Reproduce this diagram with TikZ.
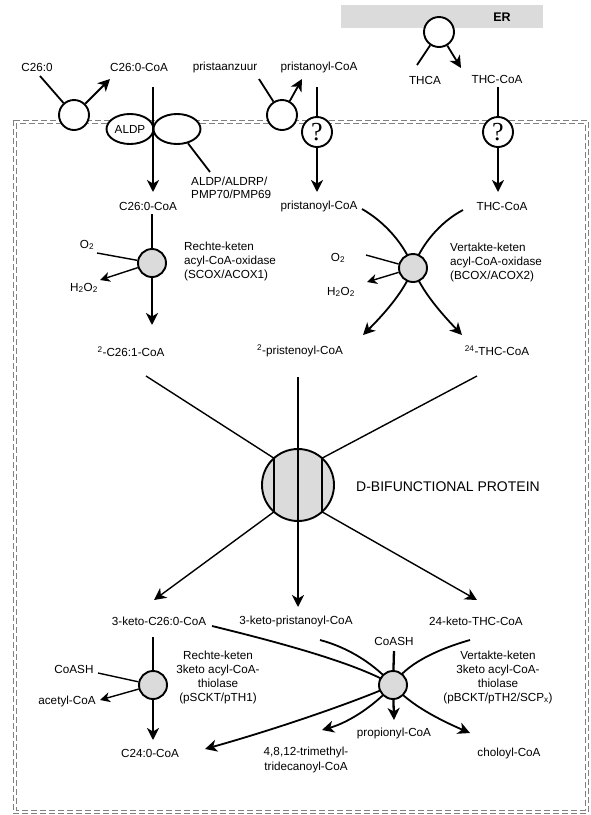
\documentclass[tikz,border=0pt]{standalone}
\usepackage{fontspec}
\setmainfont{Liberation Sans}
\newfontfamily\qmarkfont{Liberation Serif}
\usetikzlibrary{arrows.meta,shapes.geometric}
\pgfdeclarelayer{back}
\pgfdeclarelayer{lines}
\pgfdeclarelayer{front}
\pgfsetlayers{back,lines,main,front}
\begin{document}
\begin{tikzpicture}[x=1pt,y=-1pt,
  lbl/.style={inner sep=0pt,font=\fontsize{11.7}{14}\selectfont},
  blk/.style={lbl,align=left},
  cblk/.style={lbl,align=center},
  tip/.style={-{Stealth[length=12pt,width=12pt,inset=3.5pt]}},
  smalltip/.style={-{Stealth[length=10pt,width=10pt,inset=3pt]}},
  heavy/.style={line width=2.3pt},
  med/.style={line width=1.8pt},
  fine/.style={line width=1.4pt},
  porter/.style={circle,draw,line width=1.9pt,fill=white,minimum size=30pt,inner sep=0pt},
  enzyme/.style={circle,draw,line width=1.9pt,fill=black!14,minimum size=28pt,inner sep=0pt},
  carrier/.style={ellipse,draw,line width=1.9pt,fill=white,minimum width=47pt,minimum height=30pt,inner sep=0pt},
  border/.style={draw=black!50,line width=0.9pt,dash pattern=on 6pt off 3pt}
]
\useasboundingbox (0,0) rectangle (590,815);

% ---------- substrates at the top ----------
\node[lbl] (c26) at (37,67) {C26:0};
\node[lbl] (c26coaT) at (139,67) {C26:0-CoA};
\node[lbl] (pza) at (225,67) {pristaanzuur};
\node[lbl] (prcoaT) at (319,67) {pristanoyl-CoA};
\node[lbl] (thca) at (425,80) {THCA};
\node[lbl] (thccoaT) at (497,79) {THC-CoA};
\node[inner sep=0pt,font=\fontsize{12.5}{14}\selectfont\bfseries] (er) at (502,17) {ER};

% activating enzymes and transporters
\node[porter] (t1) at (74,115) {};
\node[porter] (t2) at (282,115) {};
\node[porter] (t3) at (439,32) {};
\node[carrier] (aldp) at (130,129) {\fontsize{11.7}{14}\selectfont ALDP};
\node[carrier] (aldp2) at (177,129) {};
\node[porter] (q1) at (317,132) {\qmarkfont\fontsize{26}{26}\selectfont ?};
\node[porter] (q2) at (498,132) {\qmarkfont\fontsize{26}{26}\selectfont ?};
\node[lbl,anchor=west,align=left,font=\fontsize{11.7}{12.7}\selectfont] (aldpl) at (191,188) {ALDP/ALDRP/\\PMP70/PMP69};

% ---------- acyl-CoA oxidases ----------
\node[lbl] (c26coa) at (148,206) {C26:0-CoA};
\node[lbl] (prcoa) at (319,206) {pristanoyl-CoA};
\node[lbl] (thccoa) at (502,206) {THC-CoA};
\node[enzyme] (enzA) at (152,263) {};
\node[enzyme] (enzB) at (413,268) {};
\node[lbl] (o2a) at (87,245) {O\textsubscript{2}};
\node[lbl] (h2o2a) at (84,288) {H\textsubscript{2}O\textsubscript{2}};
\node[lbl] (o2b) at (338,258) {O\textsubscript{2}};
\node[lbl] (h2o2b) at (341,292) {H\textsubscript{2}O\textsubscript{2}};
\node[blk,anchor=west] (scox) at (184,261) {Rechte-keten\\acyl-CoA-oxidase\\(SCOX/ACOX1)};
\node[blk,anchor=west] (bcox) at (450,262) {Vertakte-keten\\acyl-CoA-oxidase\\(BCOX/ACOX2)};
\node[lbl] (enoylA) at (131,352) {\textsuperscript{2}-C26:1-CoA};
\node[lbl] (enoylB) at (300,351) {\textsuperscript{2}-pristenoyl-CoA};
\node[lbl] (enoylC) at (497,351) {\textsuperscript{24}-THC-CoA};

% ---------- D-bifunctional protein ----------
\node[circle,draw,line width=1.9pt,fill=black!14,minimum size=72pt,inner sep=0pt] (dbp) at (298,485) {};
\node[inner sep=0pt,anchor=west,font=\fontsize{14}{16}\selectfont] (dbpl) at (356,487) {D-BIFUNCTIONAL PROTEIN};

% ---------- thiolases ----------
\node[lbl] (ketoA) at (159,621) {3-keto-C26:0-CoA};
\node[lbl] (ketoB) at (296,621) {3-keto-pristanoyl-CoA};
\node[lbl] (ketoC) at (476,621) {24-keto-THC-CoA};
\node[enzyme] (enzC) at (153,685) {};
\node[enzyme] (enzD) at (393,685) {};
\node[lbl] (coashA) at (74,669) {CoASH};
\node[lbl] (acetyl) at (67,701) {acetyl-CoA};
\node[lbl] (coashB) at (394,641) {CoASH};
\node[lbl] (propionyl) at (394,733) {propionyl-CoA};
\node[cblk] (scpt) at (218,677) {Rechte-keten\\3keto acyl-CoA-\\thiolase\\(pSCKT/pTH1)};
\node[cblk] (bcpt) at (498,677) {Vertakte-keten\\3keto acyl-CoA-\\thiolase\\(pBCKT/pTH2/SCP\textsubscript{x})};
\node[lbl] (c24) at (150,753) {C24:0-CoA};
\node[cblk,font=\fontsize{11.7}{15}\selectfont] (tmtd) at (306,760) {4,8,12-trimethyl-\\tridecanoyl-CoA};
\node[lbl] (choloyl) at (509,753) {choloyl-CoA};

% free ends of connectors
\coordinate (a1) at (40,76);   \coordinate (a2) at (110,79);
\coordinate (b1) at (259,79);  \coordinate (b2) at (302,79);
\coordinate (e1) at (417,65);  \coordinate (e2) at (461,68);
\coordinate (v1a) at (153,87); \coordinate (v1b) at (153,192);
\coordinate (v2a) at (317,87); \coordinate (v2b) at (317,192);
\coordinate (v3a) at (498,87); \coordinate (v3b) at (498,192);
\coordinate (l1) at (210,172);
\coordinate (va) at (152,214); \coordinate (vb) at (152,325);
\coordinate (oa) at (97,253);  \coordinate (ha) at (100,280);
\coordinate (ob) at (366,255); \coordinate (hb) at (367,282);
\coordinate (c1) at (362,209); \coordinate (c2) at (463,210);
\coordinate (f1) at (462,335); \coordinate (f2) at (363,335);
\coordinate (d1) at (146,376); \coordinate (d2) at (298,377); \coordinate (d3) at (477,376);
\coordinate (chL1) at (274,458.2); \coordinate (chL2) at (274,511.8);
\coordinate (chR1) at (322,458.2); \coordinate (chR2) at (322,511.8);
\coordinate (g1) at (154,600); \coordinate (g2) at (298,607); \coordinate (g3) at (477,600);
\coordinate (k1) at (153,637); \coordinate (k2) at (153,740);
\coordinate (m1) at (98,673);  \coordinate (m2) at (100,700);
\coordinate (n0) at (394,651); \coordinate (n1) at (394,720);
\coordinate (p1) at (212,626); \coordinate (p2) at (205,749);
\coordinate (p3) at (320,640); \coordinate (p4) at (322,730);
\coordinate (p5) at (470,640); \coordinate (p6) at (470,733);

% ---------- background: ER band and peroxisomal membrane ----------
\begin{pgfonlayer}{back}
  \fill[black!14] (341,5) rectangle (543,28);
  \draw[border] (13,120) rectangle (588,813);
  \draw[border] (16,123) rectangle (585,810);
\end{pgfonlayer}

% ---------- connectors behind the enzyme circles ----------
\begin{pgfonlayer}{lines}
  \draw[med] (a1) -- (t1);
  \draw[med,tip] (t1) -- (a2);
  \draw[med] (b1) -- (t2);
  \draw[med,tip] (t2) -- (b2);
  \draw[med] (e1) -- (t3);
  \draw[med,tip] (t3) -- (e2);
  \draw[med] (aldp2) -- (l1);
  \draw[heavy,tip] (v2a) -- (v2b);
  \draw[heavy,tip] (v3a) -- (v3b);
  % straight-chain oxidase
  \draw[heavy,tip] (va) -- (vb);
  \draw[fine] (oa) -- (enzA);
  \draw[fine,smalltip] (enzA) -- (ha);
  % branched-chain oxidase
  \draw[med] (c1) .. controls (385,222) and (405,245) .. (enzB.center);
  \draw[med,tip] (enzB.center) .. controls (421,290) and (440,312) .. (f1);
  \draw[med] (c2) .. controls (440,222) and (421,245) .. (enzB.center);
  \draw[med,tip] (enzB.center) .. controls (405,290) and (386,312) .. (f2);
  \draw[fine] (ob) -- (enzB);
  \draw[fine,smalltip] (enzB) -- (hb);
  % straight-chain thiolase
  \draw[heavy,tip] (k1) -- (k2);
  \draw[fine] (m1) -- (enzC);
  \draw[fine,smalltip] (enzC) -- (m2);
  % branched-chain thiolase
  \draw[heavy] (n0) -- (enzD);
  \draw[heavy,tip] (enzD) -- (n1);
  \draw[med] (p1) .. controls (290,645) and (360,665) .. (enzD.center);
  \draw[med,tip] (enzD.center) .. controls (360,700) and (280,728) .. (p2);
  \draw[med] (p3) .. controls (350,648) and (375,665) .. (enzD.center);
  \draw[med,tip] (enzD.center) .. controls (375,705) and (350,722) .. (p4);
  \draw[med] (p5) .. controls (435,650) and (405,665) .. (enzD.center);
  \draw[med,tip] (enzD.center) .. controls (410,705) and (440,720) .. (p6);
\end{pgfonlayer}

% ---------- connectors over the carriers and the D-bifunctional protein ----------
\begin{pgfonlayer}{front}
  \draw[heavy,tip] (v1a) -- (v1b);
  \draw[fine] (d1) -- (chL1);
  \draw[fine] (d3) -- (chR1);
  \draw[line width=2.6pt] (chL1) -- (chL2);
  \draw[line width=2.6pt] (chR1) -- (chR2);
  \draw[heavy,tip] (d2) -- (g2);
  \draw[fine,tip] (chL2) -- (g1);
  \draw[fine,tip] (chR2) -- (g3);
\end{pgfonlayer}
\end{tikzpicture}
\end{document}
